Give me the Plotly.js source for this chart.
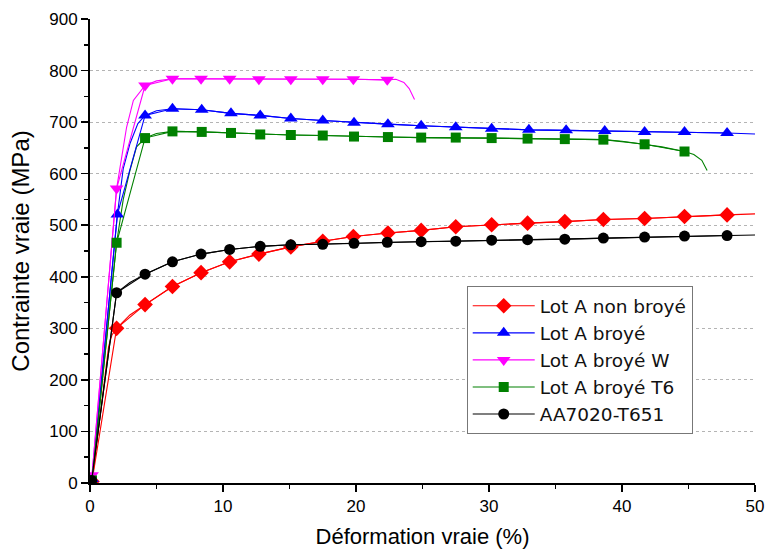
<!DOCTYPE html>
<html>
<head>
<meta charset="utf-8">
<script src="https://cdn.plot.ly/plotly-3.0.1.min.js"></script>
<style>html,body{margin:0;padding:0;background:#fff;}#chart{width:768px;height:553px;}</style>
</head>
<body>
<div id="chart"></div>
<script>
// Series names
const seriesNames = ["Lot A non broyé", "Lot A broyé", "Lot A broyé W", "Lot A broyé T6", "AA7020-T651"];

// Marker points (true strain %, true stress MPa)
const redMarkX = [0.15, 2.0, 4.14, 6.2, 8.35, 10.5, 12.7, 15.1, 17.5, 19.8, 22.4, 24.9, 27.5, 30.2, 32.9, 35.7, 38.6, 41.7, 44.7, 47.9];
const redMarkY = [3, 300, 346, 381, 408, 429, 444, 458, 469, 478, 485, 490, 497, 501, 504, 507, 511, 513, 517, 520];

const blueMarkX = [0.15, 2.06, 4.14, 6.2, 8.4, 10.6, 12.8, 15.1, 17.5, 19.85, 22.4, 24.9, 27.5, 30.2, 33.0, 35.8, 38.7, 41.7, 44.7, 47.9];
const blueMarkY = [8, 521, 713, 726, 724, 717, 713, 707, 703, 699, 696, 693, 690, 687, 685, 684, 683, 681, 681, 679];

const pinkMarkX = [0.15, 2.0, 4.14, 6.2, 8.35, 10.5, 12.7, 15.1, 17.5, 19.8, 22.35];
const pinkMarkY = [15, 571, 771, 784, 784, 784, 783, 783, 783, 783, 782];

const greenMarkX = [0.15, 2.0, 4.14, 6.2, 8.4, 10.6, 12.8, 15.1, 17.5, 19.85, 22.4, 24.9, 27.5, 30.2, 32.9, 35.7, 38.6, 41.7, 44.7];
const greenMarkY = [5, 466, 669, 682, 681, 679, 676, 675, 674, 672, 671, 670, 670, 669, 668, 667, 666, 657, 643];

const blackMarkX = [0.12, 2.0, 4.14, 6.2, 8.35, 10.5, 12.8, 15.1, 17.5, 19.85, 22.35, 24.9, 27.5, 30.2, 32.9, 35.7, 38.6, 41.7, 44.7, 47.9];
const blackMarkY = [5, 369, 405, 429, 444, 453, 459, 462, 463, 465, 467, 468, 469, 471, 472, 473, 475, 477, 479, 480];

// Extra curve points (knees and ends)
const redExtraX = [1.4, 1.65, 3.0, 50];
const redExtraY = [265, 287, 326, 522];
const blueExtraX = [2.5, 3.0, 3.6, 5.0, 50];
const blueExtraY = [610, 658, 697, 722, 677];
const pinkExtraX = [1.6, 2.75, 3.26, 5.0, 23.0, 23.6, 24.0, 24.4];
const pinkExtraY = [440, 690, 742, 780, 783, 777, 765, 744];
const greenExtraX = [2.5, 3.0, 3.5, 5.0, 40.0, 43.0, 45.4, 46.0, 46.4];
const greenExtraY = [550, 606, 652, 678, 663, 652, 637, 626, 606];
const blackExtraX = [3.0, 50];
const blackExtraY = [389, 481];

const colors = ["#ff0000", "#0000ff", "#ff00ff", "#008000", "#000000"];
const symbols = ["diamond", "triangle-up", "triangle-down", "square", "circle"];
const sizes = [12, 12, 12, 10, 11];

function merge(mx, my, ex, ey) {
  const pts = mx.map((x, i) => [x, my[i]]).concat(ex.map((x, i) => [x, ey[i]]));
  pts.sort((a, b) => a[0] - b[0]);
  return {x: pts.map(p => p[0]), y: pts.map(p => p[1])};
}

const marks = [
  [redMarkX, redMarkY, redExtraX, redExtraY],
  [blueMarkX, blueMarkY, blueExtraX, blueExtraY],
  [pinkMarkX, pinkMarkY, pinkExtraX, pinkExtraY],
  [greenMarkX, greenMarkY, greenExtraX, greenExtraY],
  [blackMarkX, blackMarkY, blackExtraX, blackExtraY]
];

const traces = [];
marks.forEach((m, i) => {
  const c = merge(m[0], m[1], m[2], m[3]);
  traces.push({
    x: c.x, y: c.y, type: "scatter", mode: "lines",
    line: {color: colors[i], width: 1.1},
    legendgroup: "g" + i, showlegend: false, hoverinfo: "skip"
  });
});
marks.forEach((m, i) => {
  traces.push({
    x: m[0], y: m[1], type: "scatter", mode: "lines+markers",
    name: seriesNames[i],
    line: {color: colors[i], width: 1.1},
    marker: {symbol: symbols[i], size: sizes[i], color: colors[i], line: {width: 0}},
    legendgroup: "g" + i
  });
});

const fam = "Liberation Sans, Arial, sans-serif";
const tickFont = {family: fam, size: 17, color: "#000"};

const layout = {
  width: 768, height: 553,
  margin: {l: 90, r: 13, t: 19, b: 70},
  paper_bgcolor: "#fff", plot_bgcolor: "#fff",
  font: {family: fam, color: "#000"},
  showlegend: true,
  legend: {
    x: 0.5665, y: 0.424, xanchor: "left", yanchor: "top",
    bgcolor: "#fff", bordercolor: "#777", borderwidth: 1,
    font: {size: 18.5, family: "DejaVu Sans, sans-serif", color: "#111"},
    tracegroupgap: 0, itemwidth: 62
  },
  xaxis: {
    range: [0, 50], dtick: 10, tick0: 0,
    showline: true, linecolor: "#000", linewidth: 2,
    ticks: "outside", ticklen: 7, tickwidth: 1.5, tickcolor: "#000",
    minor: {dtick: 5, ticks: "outside", ticklen: 4, tickwidth: 1.5, tickcolor: "#000", showgrid: false},
    showgrid: false, zeroline: false,
    tickfont: tickFont,
    title: {text: "Déformation vraie (%)", font: {size: 22, family: fam}, standoff: 13}
  },
  yaxis: {
    range: [0, 900], dtick: 100, tick0: 0,
    showline: true, linecolor: "#000", linewidth: 2,
    ticks: "outside", ticklen: 7, tickwidth: 1.5, tickcolor: "#000",
    minor: {dtick: 50, ticks: "outside", ticklen: 4, tickwidth: 1.5, tickcolor: "#000", showgrid: false},
    showgrid: true, gridcolor: "#b4b4b4", griddash: "dot", gridwidth: 1,
    zeroline: false,
    tickfont: tickFont,
    title: {text: "Contrainte vraie (MPa)", font: {size: 24, family: fam}, standoff: 13}
  },
  xaxis2: {
    overlaying: "x", side: "top", anchor: "y", range: [0, 50], dtick: 10, tick0: 0,
    showline: true, linecolor: "#000", linewidth: 2,
    ticks: "inside", ticklen: 7, tickwidth: 1.5, tickcolor: "#000",
    minor: {dtick: 5, ticks: "inside", ticklen: 4, tickwidth: 1.5, tickcolor: "#000", showgrid: false},
    showticklabels: false, showgrid: false, zeroline: false
  },
  yaxis2: {
    overlaying: "y", side: "right", anchor: "x", range: [0, 900], dtick: 100, tick0: 0,
    showline: true, linecolor: "#000", linewidth: 2,
    ticks: "inside", ticklen: 7, tickwidth: 1.5, tickcolor: "#000",
    minor: {dtick: 50, ticks: "inside", ticklen: 4, tickwidth: 1.5, tickcolor: "#000", showgrid: false},
    showticklabels: false, showgrid: false, zeroline: false
  }
};

Plotly.newPlot("chart", traces, layout, {displayModeBar: false, staticPlot: true});
</script>
</body>
</html>
